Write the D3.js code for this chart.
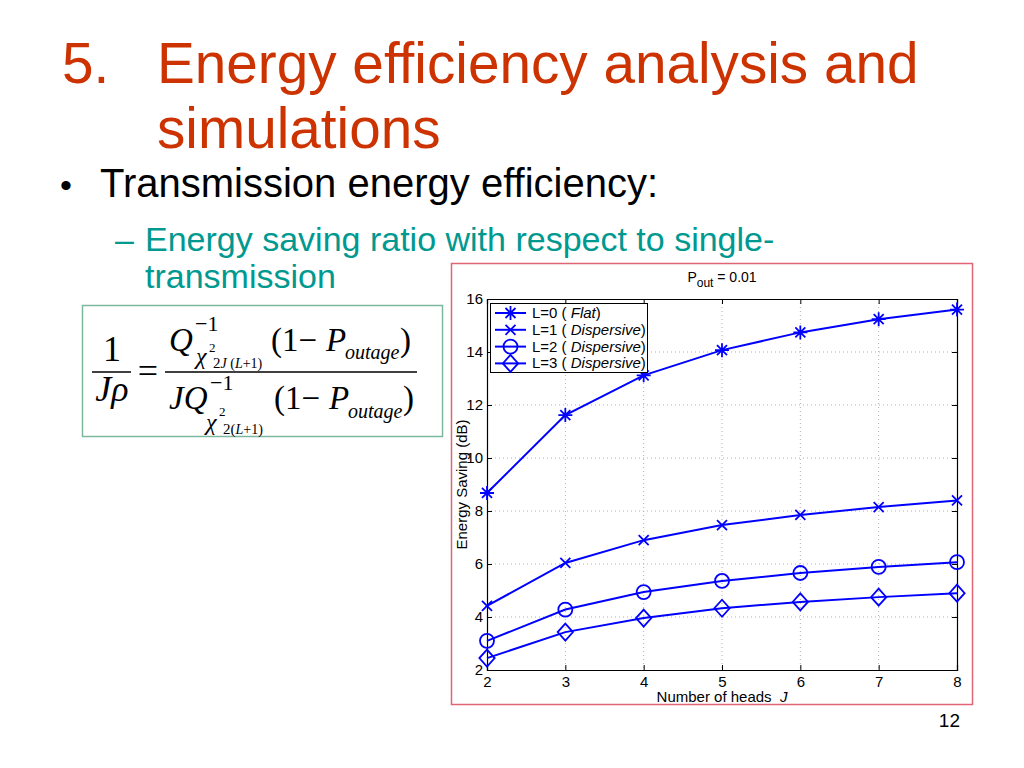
<!DOCTYPE html>
<html>
<head>
<meta charset="utf-8">
<script src="https://cdn.jsdelivr.net/npm/d3@7"></script>
<style>
  body { margin: 0; background: #fff; }
  svg { display: block; font-family: "Liberation Sans", Arial, sans-serif; }
  .grid line { stroke: #b0b0b0; stroke-dasharray: 1,3; }
</style>
</head>
<body>
<svg id="slide" width="1024" height="768"></svg>
<script>
// Chart data
const heads = [2, 3, 4, 5, 6, 7, 8];
const savingL0 = [8.68, 11.62, 13.12, 14.07, 14.74, 15.24, 15.6];
const savingL1 = [4.42, 6.04, 6.9, 7.47, 7.85, 8.15, 8.4];
const savingL2 = [3.1, 4.28, 4.94, 5.36, 5.66, 5.89, 6.07];
const savingL3 = [2.45, 3.43, 3.96, 4.33, 4.57, 4.75, 4.9];
const yTicks = [2, 4, 6, 8, 10, 12, 14, 16];
const seriesNames = ["L=0", "L=1", "L=2", "L=3"];
const seriesKinds = ["Flat", "Dispersive", "Dispersive", "Dispersive"];
const markers = ["asterisk", "xmark", "circle", "diamond"];

const svg = d3.select("#slide");

// ---- slide text ----
svg.append("text").attr("x", 62).attr("y", 83)
  .attr("font-size", 56.7).attr("fill", "#cc3300").text("5.");
svg.append("text").attr("x", 157).attr("y", 83)
  .attr("font-size", 56.7).attr("fill", "#cc3300").text("Energy efficiency analysis and");
svg.append("text").attr("x", 157).attr("y", 148)
  .attr("font-size", 56.7).attr("fill", "#cc3300").text("simulations");

svg.append("text").attr("x", 60).attr("y", 197)
  .attr("font-size", 34).attr("fill", "#000").text("•");
svg.append("text").attr("x", 100).attr("y", 197)
  .attr("font-size", 40).attr("fill", "#000").text("Transmission energy efficiency:");

svg.append("text").attr("x", 115).attr("y", 251)
  .attr("font-size", 34).attr("fill", "#009990").text("–");
svg.append("text").attr("x", 145).attr("y", 251)
  .attr("font-size", 34).attr("fill", "#009990").text("Energy saving ratio with respect to single-");
svg.append("text").attr("x", 145).attr("y", 288)
  .attr("font-size", 34).attr("fill", "#009990").text("transmission");

svg.append("text").attr("x", 960).attr("y", 727).attr("text-anchor", "end")
  .attr("font-size", 19).text("12");

// ---- formula box ----
function drawFormula(g) {
  g.append("rect").attr("x", 82.5).attr("y", 305.5).attr("width", 360).attr("height", 131)
    .attr("fill", "#fff").attr("stroke", "#7cb89e").attr("stroke-width", 1.5);

  const serif = "'Liberation Serif', 'Times New Roman', serif";
  const put = (x, y, size, txt, italic) => g.append("text")
    .attr("x", x).attr("y", y).attr("font-size", size)
    .attr("font-family", serif)
    .attr("font-style", italic ? "italic" : "normal")
    .text(txt);

  // left side 1 / J rho
  put(112, 361, 36, "1").attr("text-anchor", "middle");
  g.append("line").attr("x1", 92).attr("x2", 131).attr("y1", 372).attr("y2", 372)
    .attr("stroke", "#000").attr("stroke-width", 1.6);
  put(112, 401, 36, "Jρ", true).attr("text-anchor", "middle");
  put(148, 383, 36, "=").attr("text-anchor", "middle");

  // main fraction bar
  g.append("line").attr("x1", 165).attr("x2", 417).attr("y1", 372).attr("y2", 372)
    .attr("stroke", "#000").attr("stroke-width", 1.6);

  // numerator
  put(169, 351, 33, "Q", true);
  put(195, 331, 22, "−1");
  put(196, 364, 24, "χ", true);
  put(209, 352, 13, "2");
  const n = put(213, 368, 14, "");
  n.append("tspan").attr("font-size", 15).text("2");
  n.append("tspan").attr("font-style", "italic").text("J");
  n.append("tspan").text(" (");
  n.append("tspan").attr("font-style", "italic").text("L");
  n.append("tspan").text("+1)");
  put(271, 351, 33, "(1−");
  put(326, 351, 33, "P", true);
  put(345, 359, 20, "outage", true);
  put(400, 351, 33, ")");

  // denominator
  put(169, 409, 33, "JQ", true);
  put(210, 390, 22, "−1");
  put(206, 430, 24, "χ", true);
  put(219, 416, 13, "2");
  const d = put(223, 434, 14, "");
  d.append("tspan").attr("font-size", 15).text("2(");
  d.append("tspan").attr("font-style", "italic").text("L");
  d.append("tspan").text("+1)");
  put(274, 409, 33, "(1−");
  put(329, 409, 33, "P", true);
  put(348, 418, 20, "outage", true);
  put(403, 409, 33, ")");
}
drawFormula(svg.append("g"));

// ---- chart ----
function drawChart({ svg, margin }) {
  // outer red frame
  svg.append("rect").attr("x", 451.5).attr("y", 263.5).attr("width", 521).attr("height", 441)
    .attr("fill", "#fff").attr("stroke", "#e06474").attr("stroke-width", 1.5);

  const x = d3.scaleLinear().domain([2, 8]).range([margin.left, margin.right]);
  const y = d3.scaleLinear().domain([2, 16]).range([margin.bottom, margin.top]);

  // grid
  const grid = svg.append("g").attr("class", "grid");
  grid.selectAll(".gx").data(heads.slice(1, -1)).join("line")
    .attr("x1", d => x(d)).attr("x2", d => x(d))
    .attr("y1", margin.top).attr("y2", margin.bottom);
  grid.selectAll(".gy").data(yTicks.slice(1, -1)).join("line")
    .attr("x1", margin.left).attr("x2", margin.right)
    .attr("y1", d => y(d)).attr("y2", d => y(d));

  // axes (ticks inward, box on all sides)
  const fontSize = 15;
  const bottom = svg.append("g").attr("transform", `translate(0,${margin.bottom})`)
    .call(d3.axisBottom(x).tickValues(heads).tickSize(-5).tickPadding(6).tickFormat(d3.format("d")));
  const top = svg.append("g").attr("transform", `translate(0,${margin.top})`)
    .call(d3.axisTop(x).tickValues(heads).tickSize(-5).tickFormat(""));
  const left = svg.append("g").attr("transform", `translate(${margin.left},0)`)
    .call(d3.axisLeft(y).tickValues(yTicks).tickSize(-5).tickPadding(4));
  const right = svg.append("g").attr("transform", `translate(${margin.right},0)`)
    .call(d3.axisRight(y).tickValues(yTicks).tickSize(-5).tickFormat(""));
  [bottom, top, left, right].forEach(a => {
    a.select(".domain").attr("stroke", "#000").attr("stroke-width", 1.2);
    a.selectAll(".tick line").attr("stroke", "#000");
    a.selectAll("text").attr("font-size", fontSize).attr("fill", "#000")
      .attr("font-family", "'Liberation Sans', Arial, sans-serif");
  });

  // series
  const series = [savingL0, savingL1, savingL2, savingL3];
  const line = d3.line().x((d, i) => x(heads[i])).y(d => y(d));
  const blue = "#0000ff";

  function marker(g, kind) {
    if (kind === "asterisk") {
      const r = 7, q = 5;
      g.append("path").attr("d", `M${-r},0H${r}M0,${-r}V${r}M${-q},${-q}L${q},${q}M${-q},${q}L${q},${-q}`);
    } else if (kind === "xmark") {
      const q = 5;
      g.append("path").attr("d", `M${-q},${-q}L${q},${q}M${-q},${q}L${q},${-q}`);
    } else if (kind === "circle") {
      g.append("circle").attr("r", 7);
    } else {
      const r = 8.5;
      g.append("path").attr("d", `M0,${-r}L${r * 0.9},0L0,${r}L${-r * 0.9},0Z`);
    }
  }

  series.forEach((vals, k) => {
    svg.append("path").datum(vals)
      .attr("fill", "none").attr("stroke", blue).attr("stroke-width", 2)
      .attr("d", line);
    svg.append("g").selectAll("g").data(vals).join("g")
      .attr("transform", (d, i) => `translate(${x(heads[i])},${y(d)})`)
      .attr("fill", "none").attr("stroke", blue).attr("stroke-width", 1.8)
      .each(function () { marker(d3.select(this), markers[k]); });
  });

  // title
  const t = svg.append("text").attr("x", (margin.left + margin.right) / 2).attr("y", 282)
    .attr("text-anchor", "middle").attr("font-size", 14);
  t.append("tspan").text("P");
  t.append("tspan").attr("font-size", 12).attr("dy", 5).text("out");
  t.append("tspan").attr("dy", -5).text(" = 0.01");

  // x label
  const xl = svg.append("text").attr("x", (margin.left + margin.right) / 2).attr("y", 702)
    .attr("text-anchor", "middle").attr("font-size", 15);
  xl.append("tspan").text("Number of heads\u00a0\u00a0");
  xl.append("tspan").attr("font-style", "italic").text("J");

  // y label
  svg.append("text")
    .attr("transform", `translate(467,${(margin.top + margin.bottom) / 2}) rotate(-90)`)
    .attr("text-anchor", "middle").attr("font-size", 15)
    .text("Energy Saving (dB)");

  // legend
  const lg = svg.append("g");
  lg.append("rect").attr("x", 490.5).attr("y", 303.5).attr("width", 157).attr("height", 69)
    .attr("fill", "#fff").attr("stroke", "#000").attr("stroke-width", 1);
  seriesNames.forEach((name, k) => {
    const yy = 313 + k * 16.8;
    lg.append("line").attr("x1", 495).attr("x2", 526).attr("y1", yy).attr("y2", yy)
      .attr("stroke", blue).attr("stroke-width", 2);
    const m = lg.append("g").attr("transform", `translate(510.5,${yy})`)
      .attr("fill", "none").attr("stroke", blue).attr("stroke-width", 1.8);
    marker(m, markers[k]);
    const tx = lg.append("text").attr("x", 532).attr("y", yy + 5).attr("font-size", 15);
    tx.append("tspan").text(name + " ( ");
    tx.append("tspan").attr("font-style", "italic").text(seriesKinds[k]);
    tx.append("tspan").text(")");
  });
}

drawChart({ svg, margin: { left: 487, right: 957, top: 299, bottom: 670 } });
</script>
</body>
</html>
